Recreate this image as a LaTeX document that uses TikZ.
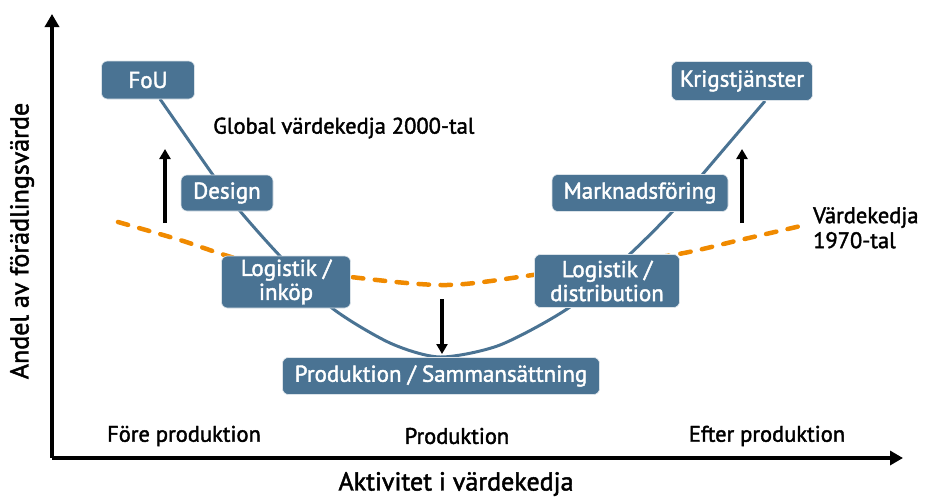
\documentclass[tikz,border=0pt]{standalone}
\usepackage{fontspec}
\setmainfont[FakeBold=1.8]{PT Sans}
\usetikzlibrary{arrows.meta}
\definecolor{boxblue}{HTML}{4A7393}
\definecolor{dashorange}{HTML}{F08A00}
\tikzset{
  box/.style={draw=white!80!boxblue, line width=0.6pt, fill=boxblue, rounded corners=6pt, text=white, align=center, inner sep=0pt, font=\fontsize{23}{24}\selectfont},
  axis/.style={line width=3.4pt, -{Triangle[length=13pt,width=14pt]}},
  shiftarrow/.style={line width=4.5pt, -{Triangle[length=10pt,width=11pt]}},
  lbl/.style={font=\fontsize{22.5}{25}\selectfont, inner sep=0pt},
  biglbl/.style={font=\fontsize{26}{28}\selectfont, inner sep=0pt},
  vchain/.style={boxblue, line width=3pt},
  oldchain/.style={dashorange, line width=4.5pt, line cap=round, dash pattern=on 10.5pt off 11.5pt}
}
\begin{document}
\begin{tikzpicture}[x=1pt,y=-1pt]
\useasboundingbox (0,0) rectangle (926,498);
% axes
\coordinate (o) at (52,458);
\coordinate (ytop) at (52,14);
\coordinate (xend) at (903,458);
\draw[axis] (o) -- (ytop);
\draw[axis] (o) -- (xend);
\node[biglbl, rotate=90] (ylab) at (22,241) {Andel av förädlingsvärde};
\node[biglbl] (xlab) at (456,484) {Aktivitet i värdekedja};
\node[lbl] (c1) at (184,436) {Före produktion};
\node[lbl] (c2) at (457,436) {Produktion};
\node[lbl] (c3) at (767,436) {Efter produktion};
% old value chain (dashed)
\draw[oldchain] plot[smooth, tension=0.5] coordinates {(118,222) (180,240) (250,262) (351,277) (447,285) (540,274) (673,255) (740,240) (805,225)};
% global value chain curve
\draw[vchain] plot[smooth, tension=0.45] coordinates {(160,99) (213,175) (240,211) (280,256) (332,308) (390,343) (440,357) (500,345) (570,307) (630,254) (672,212) (702,175) (765,101)};
% boxes
\node[box, minimum width=93pt, minimum height=38pt] (fou) at (148,80) {FoU};
\node[box, minimum width=92pt, minimum height=36pt] (design) at (227,193) {Design};
\node[box, minimum width=129pt, minimum height=52pt] (loginkop) at (286,282) {Logistik /\\inköp};
\node[box, minimum width=317pt, minimum height=37pt] (prod) at (441,376) {Produktion / Sammansättning};
\node[box, minimum width=176pt, minimum height=37pt] (mark) at (640,193) {Marknadsföring};
\node[box, minimum width=145pt, minimum height=53pt] (logdist) at (607,281) {Logistik /\\distribution};
\node[box, minimum width=141pt, minimum height=39pt] (krig) at (742,81) {Krigstjänster};
% labels
\node[lbl, anchor=west] (global) at (213,128) {Global värdekedja 2000-tal};
\node[lbl, anchor=north west, align=left] (old) at (813,207) {Värdekedja\\1970-tal};
% shift arrows
\coordinate (a1s) at (165,223);
\coordinate (a1e) at (165,149);
\coordinate (a2s) at (442,299);
\coordinate (a2e) at (442,354);
\coordinate (a3s) at (742,223);
\coordinate (a3e) at (742,149);
\draw[shiftarrow] (a1s) -- (a1e);
\draw[shiftarrow] (a2s) -- (a2e);
\draw[shiftarrow] (a3s) -- (a3e);
\end{tikzpicture}
\end{document}
